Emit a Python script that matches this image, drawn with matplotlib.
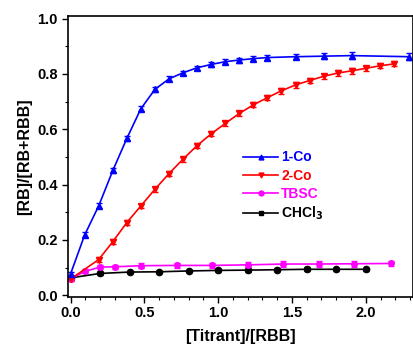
import matplotlib
matplotlib.use("Agg")
import matplotlib.pyplot as plt
from matplotlib.ticker import MultipleLocator
from matplotlib.lines import Line2D

plt.rcParams['font.family'] = ['Liberation Sans', 'DejaVu Sans']
plt.rcParams['font.weight'] = 'bold'

x_1co = [0, 0.095, 0.19, 0.286, 0.381, 0.476, 0.571, 0.667, 0.762, 0.857, 0.952,
         1.048, 1.143, 1.238, 1.333, 1.524, 1.714, 1.905, 2.29]
y_1co = [0.078, 0.218, 0.323, 0.451, 0.567, 0.674, 0.744, 0.782, 0.804, 0.822, 0.834,
         0.844, 0.850, 0.855, 0.859, 0.862, 0.864, 0.866, 0.862]
e_1co = [0.008, 0.009, 0.009, 0.009, 0.009, 0.009, 0.009, 0.009, 0.008, 0.008, 0.008,
         0.008, 0.009, 0.009, 0.009, 0.010, 0.011, 0.012, 0.012]

x_2co = [0, 0.19, 0.286, 0.381, 0.476, 0.571, 0.667, 0.762, 0.857, 0.952, 1.048,
         1.143, 1.238, 1.333, 1.429, 1.524, 1.619, 1.714, 1.81, 1.905, 2.0, 2.095, 2.19]
y_2co = [0.059, 0.129, 0.194, 0.263, 0.323, 0.383, 0.440, 0.492, 0.541, 0.583, 0.621,
         0.657, 0.688, 0.714, 0.739, 0.760, 0.776, 0.791, 0.803, 0.811, 0.820, 0.829, 0.836]
e_2co = [0.006, 0.008, 0.008, 0.009, 0.008, 0.009, 0.009, 0.009, 0.009, 0.009, 0.009,
         0.009, 0.009, 0.009, 0.010, 0.010, 0.010, 0.010, 0.011, 0.012, 0.009, 0.009, 0.009]

x_tbsc = [0, 0.1, 0.2, 0.3, 0.48, 0.72, 0.96, 1.2, 1.44, 1.68, 1.92, 2.17]
y_tbsc = [0.060, 0.087, 0.102, 0.103, 0.107, 0.108, 0.108, 0.110, 0.113, 0.113, 0.114, 0.115]
e_tbsc = [0.006, 0.007, 0.008, 0.008, 0.009, 0.009, 0.009, 0.009, 0.010, 0.010, 0.010, 0.010]

x_chcl3 = [0, 0.2, 0.4, 0.6, 0.8, 1.0, 1.2, 1.4, 1.6, 1.8, 2.0]
y_chcl3 = [0.063, 0.079, 0.084, 0.085, 0.088, 0.090, 0.091, 0.0925, 0.094, 0.094, 0.094]
e_chcl3 = [0.004, 0.004, 0.004, 0.004, 0.004, 0.005, 0.005, 0.005, 0.007, 0.005, 0.005]

labels = ['1-Co', '2-Co', 'TBSC', 'CHCl$_3$']
colors = ['#0000ff', '#ff0000', '#ff00ff', 'black']

fig = plt.figure(figsize=(4.14, 3.46), dpi=100)
ax = fig.add_axes([0.1635, 0.1425, 0.834, 0.812])

series = [
    (x_chcl3, y_chcl3, e_chcl3, colors[3], 'o', 4.5),
    (x_tbsc, y_tbsc, e_tbsc, colors[2], 'o', 4),
    (x_2co, y_2co, e_2co, colors[1], 'v', 5),
    (x_1co, y_1co, e_1co, colors[0], '^', 5),
]
for xs, ys, es, c, m, ms in series:
    ax.errorbar(xs, ys, yerr=es, color=c, marker=m, markersize=ms, lw=1.2,
                elinewidth=1.0, capsize=2.5, capthick=1.0)

leg_markers = ['^', 'v', 'o', 's']
leg_handles = [Line2D([], [], color=c, marker=m, markersize=3.5, lw=1.2)
               for c, m in zip(colors, leg_markers)]
leg = ax.legend(leg_handles, labels, loc='upper left', bbox_to_anchor=(0.48, 0.555),
                frameon=False, fontsize=10, handlelength=2.5, handletextpad=0.25,
                labelspacing=0.3, borderpad=0.2)
for t, c in zip(leg.get_texts(), colors):
    t.set_color(c)
    t.set_fontweight('bold')

ax.set_xlim(-0.02, 2.32)
ax.set_ylim(-0.005, 1.01)
ax.xaxis.set_minor_locator(MultipleLocator(0.1))
ax.yaxis.set_minor_locator(MultipleLocator(0.1))
ax.set_xticks([0, 0.5, 1.0, 1.5, 2.0])
ax.set_xticklabels(['0.0', '0.5', '1.0', '1.5', '2.0'])
ax.set_yticks([0, 0.2, 0.4, 0.6, 0.8, 1.0])
ax.set_yticklabels(['0.0', '0.2', '0.4', '0.6', '0.8', '1.0'])
ax.tick_params(axis='both', which='major', direction='out', length=4, width=1,
               labelsize=10.5, top=False, right=False, pad=3)
ax.tick_params(axis='both', which='minor', direction='out', length=2.5, width=0.8,
               top=False, right=False)
for lbl in ax.get_xticklabels() + ax.get_yticklabels():
    lbl.set_fontweight('bold')
for s in ax.spines.values():
    s.set_linewidth(1.2)

ax.set_xlabel('[Titrant]/[RBB]', fontsize=11.5, fontweight='bold', labelpad=6)
ax.set_ylabel('[RB]/[RB+RBB]', fontsize=11.5, fontweight='bold', labelpad=4)

fig.savefig('out.png', dpi=100)
